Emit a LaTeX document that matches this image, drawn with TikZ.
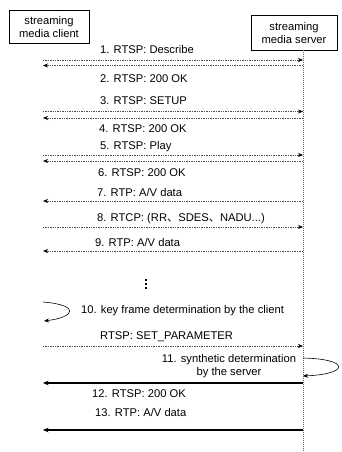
\documentclass[tikz,border=0pt]{standalone}
\usepackage{fontspec}
\setmainfont{Liberation Sans}
\newfontfamily\cjk{Noto Sans CJK SC}
\usetikzlibrary{arrows.meta}
\begin{document}
\begin{tikzpicture}[x=1pt,y=-1pt,
  font=\fontsize{11.2}{13}\selectfont,
  actor/.style={draw,line width=0.8pt,minimum width=80pt,minimum height=33pt,inner sep=0pt,align=center},
  lbl/.style={anchor=base west,inner sep=0pt},
  msgdot/.style={line width=0.6pt,draw=black!70,dash pattern=on 1.4pt off 1pt,-{Stealth[length=5pt,width=4pt,black]}},
  msgsolid/.style={line width=1.2pt,draw=black,-{Stealth[length=5.5pt,width=4.5pt]}},
  selfarrow/.style={line width=0.6pt,-{Stealth[length=5pt,width=4pt]}},
  life/.style={line width=0.6pt,draw=black!60,dash pattern=on 1pt off 1pt}]
\useasboundingbox (0,0) rectangle (342,452);
\fill[white] (0,0) rectangle (342,452);

\node[actor] (client) at (49,26.5) {streaming\\media client};
\node[actor,minimum width=86pt,minimum height=35pt] (server) at (294,32.5) {streaming\\media server};

\coordinate (ltop) at (303,50);
\coordinate (lbot) at (303,452);
\draw[life] (ltop) -- (lbot);

\foreach \n/\y in {1/60,2/65.5,3/111.5,4/118,5/155,6/161,7/201,8/227,9/251,10/346,11/383,12/430}{
  \coordinate (L\n) at (43,\y);
  \coordinate (R\n) at (303,\y);
}

\draw[msgdot] (L1) -- (R1);
\draw[msgdot] (R2) -- (L2);
\draw[msgdot] (L3) -- (R3);
\draw[msgdot] (R4) -- (L4);
\draw[msgdot] (L5) -- (R5);
\draw[msgdot] (R6) -- (L6);
\draw[msgdot] (R7) -- (L7);
\draw[msgdot] (L8) -- (R8);
\draw[msgdot] (R9) -- (L9);
\draw[msgdot] (L10) -- (R10);
\draw[msgsolid] (R11) -- (L11);
\draw[msgsolid] (R12) -- (L12);

\node[lbl] (t1) at (100,54) {1. RTSP: Describe};
\node[lbl] (t2) at (100,82) {2. RTSP: 200 OK};
\node[lbl] (t3) at (100,104) {3. RTSP: SETUP};
\node[lbl] (t4) at (99,132) {4. RTSP: 200 OK};
\node[lbl] (t5) at (100,149) {5. RTSP: Play};
\node[lbl] (t6) at (98,176) {6. RTSP: 200 OK};
\node[lbl] (t7) at (97,196) {7. RTP: A/V data};
\node[lbl] (t8) at (97,221) {8. RTCP:\ (RR{\cjk 、}SDES{\cjk 、}NADU...)};
\node[lbl] (t9) at (95,246) {9. RTP: A/V data};

\fill (145.2,279.2) rectangle (147,281);
\fill (145.2,283.2) rectangle (147,285);
\fill (145.2,287.2) rectangle (147,289);

\coordinate (c10a) at (43,302);
\coordinate (c10b) at (44,321);
\draw[selfarrow] (c10a) .. controls (80,305) and (76,317) .. (c10b);
\node[lbl] (t10) at (81,313) {10. key frame determination by the client};

\node[lbl] (tsp) at (100,339) {RTSP: SET\_PARAMETER};

\coordinate (c11a) at (303,358);
\coordinate (c11b) at (303,376);
\draw[selfarrow] (c11a) .. controls (350,359) and (350,374) .. (c11b);
\node[align=center,inner sep=0pt,anchor=center] (t11) at (229,366) {11. synthetic determination\\by the server};

\node[lbl] (t12) at (92,397) {12. RTSP: 200 OK};
\node[lbl] (t13) at (95,416) {13. RTP: A/V data};
\end{tikzpicture}
\end{document}
